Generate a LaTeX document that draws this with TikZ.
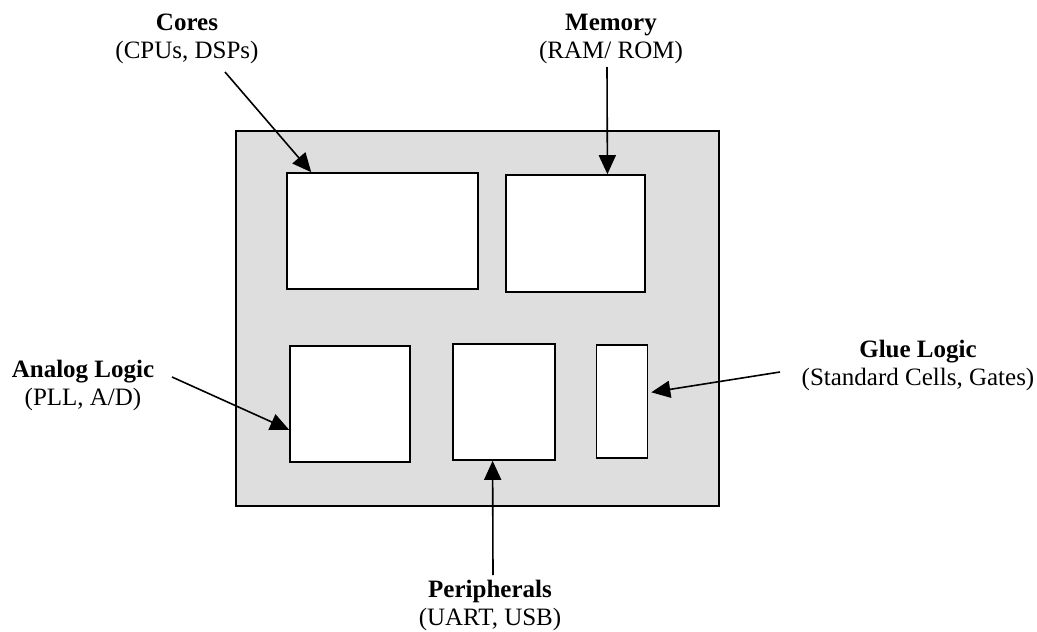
\documentclass[tikz,border=0pt]{standalone}
\usepackage{fontspec}
\setmainfont{Liberation Serif}
\usetikzlibrary{arrows.meta,calc}
\begin{document}
\begin{tikzpicture}[x=1pt,y=-1pt,
  chip/.style={draw=black,line width=1.6pt,fill=black!13,minimum width=483pt,minimum height=375pt,inner sep=0pt},
  blockbox/.style={draw=black,line width=1.6pt,fill=white,inner sep=0pt},
  caption/.style={align=center,inner sep=0pt,anchor=base,font=\fontsize{25}{27.5}\selectfont},
  pointer/.style={line width=1.6pt,-{Triangle[length=19pt,width=17pt]}}]
\useasboundingbox (0,0) rectangle (1037,632);

% die outline
\node[chip] (die) at (477.5,318.5) {};

% functional blocks on the die
\node[blockbox,minimum width=191pt,minimum height=116pt] (cores) at (382.5,231) {};
\node[blockbox,minimum width=139pt,minimum height=117pt] (mem) at (575.5,233.5) {};
\node[blockbox,minimum width=120pt,minimum height=116pt] (analog) at (350,404) {};
\node[blockbox,minimum width=102pt,minimum height=116pt] (periph) at (504,402) {};
\node[blockbox,minimum width=51pt,minimum height=113pt] (glue) at (622,401.5) {};

% captions (anchored at the baseline of their second line)
\node[caption] (tcores) at (187,58) {\textbf{Cores}\\(CPUs, DSPs)};
\node[caption] (tmem) at (611,58) {\textbf{Memory}\\(RAM/ ROM)};
\node[caption] (tanalog) at (83,405) {\textbf{Analog Logic}\\(PLL, A/D)};
\node[caption] (tglue) at (918,385) {\textbf{Glue Logic}\\(Standard Cells, Gates)};
\node[caption] (tperiph) at (490,625) {\textbf{Peripherals}\\(UART, USB)};

% arrow tails next to the captions
\coordinate (scores) at (225,72);
\coordinate (smem) at (607,67);
\coordinate (sanalog) at (172,377);
\coordinate (sglue) at (780,372);
\coordinate (speriph) at (493,575);

% pointers into the blocks
\draw[pointer] (scores) -- ($(cores.north west)!0.13!(cores.north east)$);
\draw[pointer] (smem) -- ($(mem.north west)!0.727!(mem.north east)$);
\draw[pointer] (sanalog) -- ($(analog.north west)!0.72!(analog.south west)$);
\draw[pointer] (sglue) -- ($(glue.north east)!0.42!(glue.south east)+(3,0)$);
\draw[pointer] (speriph) -- ($(periph.south west)!0.39!(periph.south east)$);
\end{tikzpicture}
\end{document}
